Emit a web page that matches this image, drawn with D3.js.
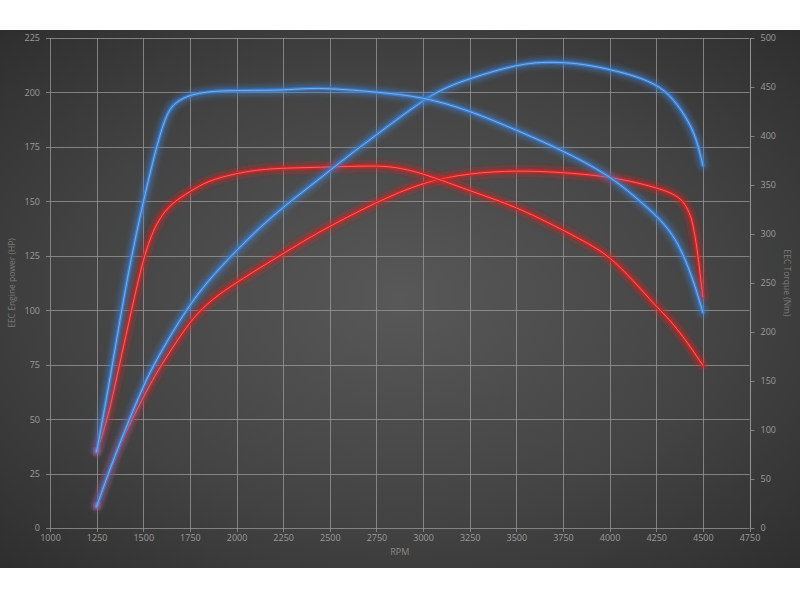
<!DOCTYPE html>
<html>
<head>
<meta charset="utf-8">
<script src="https://cdn.jsdelivr.net/npm/d3@7/dist/d3.min.js"></script>
<style>
  html, body { margin: 0; padding: 0; background: #ffffff; }
  svg { display: block; }
</style>
</head>
<body>
<svg id="chart" width="800" height="600"></svg>
<script>
// ---- Data ----
const rpmTicks = [1000,1250,1500,1750,2000,2250,2500,2750,3000,3250,3500,3750,4000,4250,4500,4750];
const hpTicks = [0,25,50,75,100,125,150,175,200,225];
const nmTicks = [0,50,100,150,200,250,300,350,400,450,500];

// Blue power (HP)
const bluePowerRpm = [1250,1300,1350,1400,1450,1500,1553,1650,1730,1840,2000,2125,2250,2440,2600,2750,3000,3125,3250,3375,3500,3600,3730,3857,4036,4214,4321,4411,4464,4500];
const bluePowerHp  = [10,22,33.5,44.5,55,65,74.5,89,100,113,127.5,138,147.4,160,171,180.5,196.6,202.5,206.3,209.7,212.4,213.8,213.9,213.1,210,205.5,199.5,188.7,179.5,166.5];

// Red power (HP)
const redPowerRpm = [1250,1300,1357,1440,1536,1598,1700,1790,1900,2018,2250,2440,2750,3000,3250,3500,3730,4000,4230,4337,4393,4430,4446,4470,4485,4500];
const redPowerHp  = [10,22,35,50,66,75,88.5,99,107,113.8,126,136,149.7,158.9,163,164.2,163.4,161.5,156.9,153.7,150.5,144.5,140,128,117,106];

// Blue torque (Nm)
const blueTorqueRpm = [1250,1300,1350,1400,1450,1500,1570,1620,1660,1750,1930,2250,2410,2750,3000,3250,3500,3730,4000,4160,4250,4340,4410,4465,4500];
const blueTorqueNm  = [78,129,184,240,289,333,389,420,433,443,447,446,450,445,440,426,406,387,360,334,319,300,273,243,220];

// Red torque (Nm)
const redTorqueRpm = [1250,1310,1375,1437,1500,1570,1660,1750,1840,2000,2160,2450,2750,2860,3000,3250,3500,3750,3890,4000,4125,4250,4300,4390,4500];
const redTorqueNm  = [78,111,169,222,276,313,333,343,354,362,367,368,370,368,362,344,328,304,290,277,253,226,217,197,166];

// ---- Layout ----
const svg = d3.select("#chart");
const W = 800;
const panelTop = 30, panelBottom = 568;
const plot = { left: 50, right: 749.5, top: 38, bottom: 528 };

const x = d3.scaleLinear().domain([1000, 4750]).range([plot.left, plot.right]);
const yL = d3.scaleLinear().domain([0, 225]).range([plot.bottom, plot.top]);
const yR = d3.scaleLinear().domain([0, 500]).range([plot.bottom, plot.top]);

const defs = svg.append("defs");
const rg = defs.append("radialGradient").attr("id", "bg")
  .attr("cx", "50%").attr("cy", "50%").attr("r", "75%");
rg.append("stop").attr("offset", "0%").attr("stop-color", "#585858");
rg.append("stop").attr("offset", "55%").attr("stop-color", "#434343");
rg.append("stop").attr("offset", "100%").attr("stop-color", "#2b2b2b");

const glow = defs.append("filter").attr("id", "glow")
  .attr("x", "-10%").attr("y", "-10%").attr("width", "120%").attr("height", "120%");
glow.append("feGaussianBlur").attr("stdDeviation", 2.6);

svg.append("rect").attr("x", 0).attr("y", panelTop).attr("width", W)
  .attr("height", panelBottom - panelTop).attr("fill", "url(#bg)");

const gridColor = "#9a9a9a";
const labelColor = "#9c9c9c";
const font = "'Open Sans', 'DejaVu Sans', sans-serif";

// Gridlines
const grid = svg.append("g").attr("stroke", gridColor).attr("stroke-opacity", 0.75).attr("stroke-width", 1);
grid.selectAll("line.h").data(hpTicks).join("line")
  .attr("x1", plot.left - 4).attr("x2", plot.right)
  .attr("y1", d => Math.round(yL(d)) + 0.5).attr("y2", d => Math.round(yL(d)) + 0.5);
grid.selectAll("line.v").data(rpmTicks).join("line")
  .attr("x1", d => Math.round(x(d)) + 0.5).attr("x2", d => Math.round(x(d)) + 0.5)
  .attr("y1", plot.top).attr("y2", plot.bottom + 4);

// Axes
function styleAxis(g) {
  g.select(".domain").remove();
  g.selectAll(".tick line").attr("stroke", gridColor).attr("stroke-opacity", 0.75);
  g.selectAll(".tick text").attr("fill", labelColor).attr("font-size", 9).attr("font-family", font);
}
const axL = svg.append("g").attr("transform", `translate(${plot.left},0)`)
  .call(d3.axisLeft(yL).tickValues(hpTicks).tickFormat(d3.format("d")).tickSize(0).tickPadding(10));
styleAxis(axL);

const axB = svg.append("g").attr("transform", `translate(0,${plot.bottom})`)
  .call(d3.axisBottom(x).tickValues(rpmTicks).tickFormat(d3.format("d")).tickSize(0).tickPadding(7));
styleAxis(axB);

const axR = svg.append("g").attr("transform", `translate(${Math.round(plot.right) + 0.5},0)`)
  .call(d3.axisRight(yR).tickValues(nmTicks).tickFormat(d3.format("d")).tickSize(4).tickPadding(6));
styleAxis(axR);
axR.append("line").attr("x1", 0).attr("x2", 0).attr("y1", plot.top).attr("y2", plot.bottom)
  .attr("stroke", gridColor).attr("stroke-opacity", 0.75);

// Axis titles
svg.append("text").attr("transform", `translate(15,${(plot.top + plot.bottom) / 2}) rotate(-90)`)
  .attr("text-anchor", "middle").attr("fill", "#7a7a7a").attr("font-size", 8.5).attr("font-family", font)
  .text("EEC Engine power (HP)");
svg.append("text").attr("transform", `translate(784,${(plot.top + plot.bottom) / 2}) rotate(90)`)
  .attr("text-anchor", "middle").attr("fill", "#7a7a7a").attr("font-size", 8.5).attr("font-family", font)
  .text("EEC Torque (Nm)");
svg.append("text").attr("x", (plot.left + plot.right) / 2).attr("y", 555)
  .attr("text-anchor", "middle").attr("fill", "#8a8a8a").attr("font-size", 9).attr("font-family", font)
  .text("RPM");

// Series
const series = [
  { rpm: redPowerRpm, val: redPowerHp, y: yL, color: "#d42222", core: "#ff6e6e", dot: "#ffc8c8" },
  { rpm: redTorqueRpm, val: redTorqueNm, y: yR, color: "#d42222", core: "#ff6e6e", dot: "#ffc8c8" },
  { rpm: bluePowerRpm, val: bluePowerHp, y: yL, color: "#3b80d2", core: "#86b6ec", dot: "#c8ddf6" },
  { rpm: blueTorqueRpm, val: blueTorqueNm, y: yR, color: "#3b80d2", core: "#86b6ec", dot: "#c8ddf6" }
];

const lines = svg.append("g");
series.forEach(s => {
  const pts = s.rpm.map((r, i) => [r, s.val[i]]);
  const line = d3.line().x(d => x(d[0])).y(d => s.y(d[1])).curve(d3.curveBasis);
  const g = lines.append("g");
  g.append("path").attr("d", line(pts)).attr("fill", "none").attr("stroke", s.color)
    .attr("stroke-width", 9).attr("stroke-opacity", 0.5).attr("filter", "url(#glow)")
    .attr("stroke-linecap", "round");
  g.append("path").attr("d", line(pts)).attr("fill", "none").attr("stroke", s.color)
    .attr("stroke-width", 3.5).attr("stroke-opacity", 0.9).attr("stroke-linecap", "round");
  g.append("path").attr("d", line(pts)).attr("fill", "none").attr("stroke", s.core)
    .attr("stroke-width", 1).attr("stroke-opacity", 0.85).attr("stroke-linecap", "round");
});

// Start points glow (purple tint)
const starts = [[bluePowerRpm[0], bluePowerHp[0], yL], [blueTorqueRpm[0], blueTorqueNm[0], yR]];
svg.append("g").selectAll("circle").data(starts).join("circle")
  .attr("cx", d => x(d[0])).attr("cy", d => d[2](d[1])).attr("r", 3)
  .attr("fill", "#c08ad8").attr("fill-opacity", 0.6).attr("filter", "url(#glow)");
</script>
</body>
</html>
